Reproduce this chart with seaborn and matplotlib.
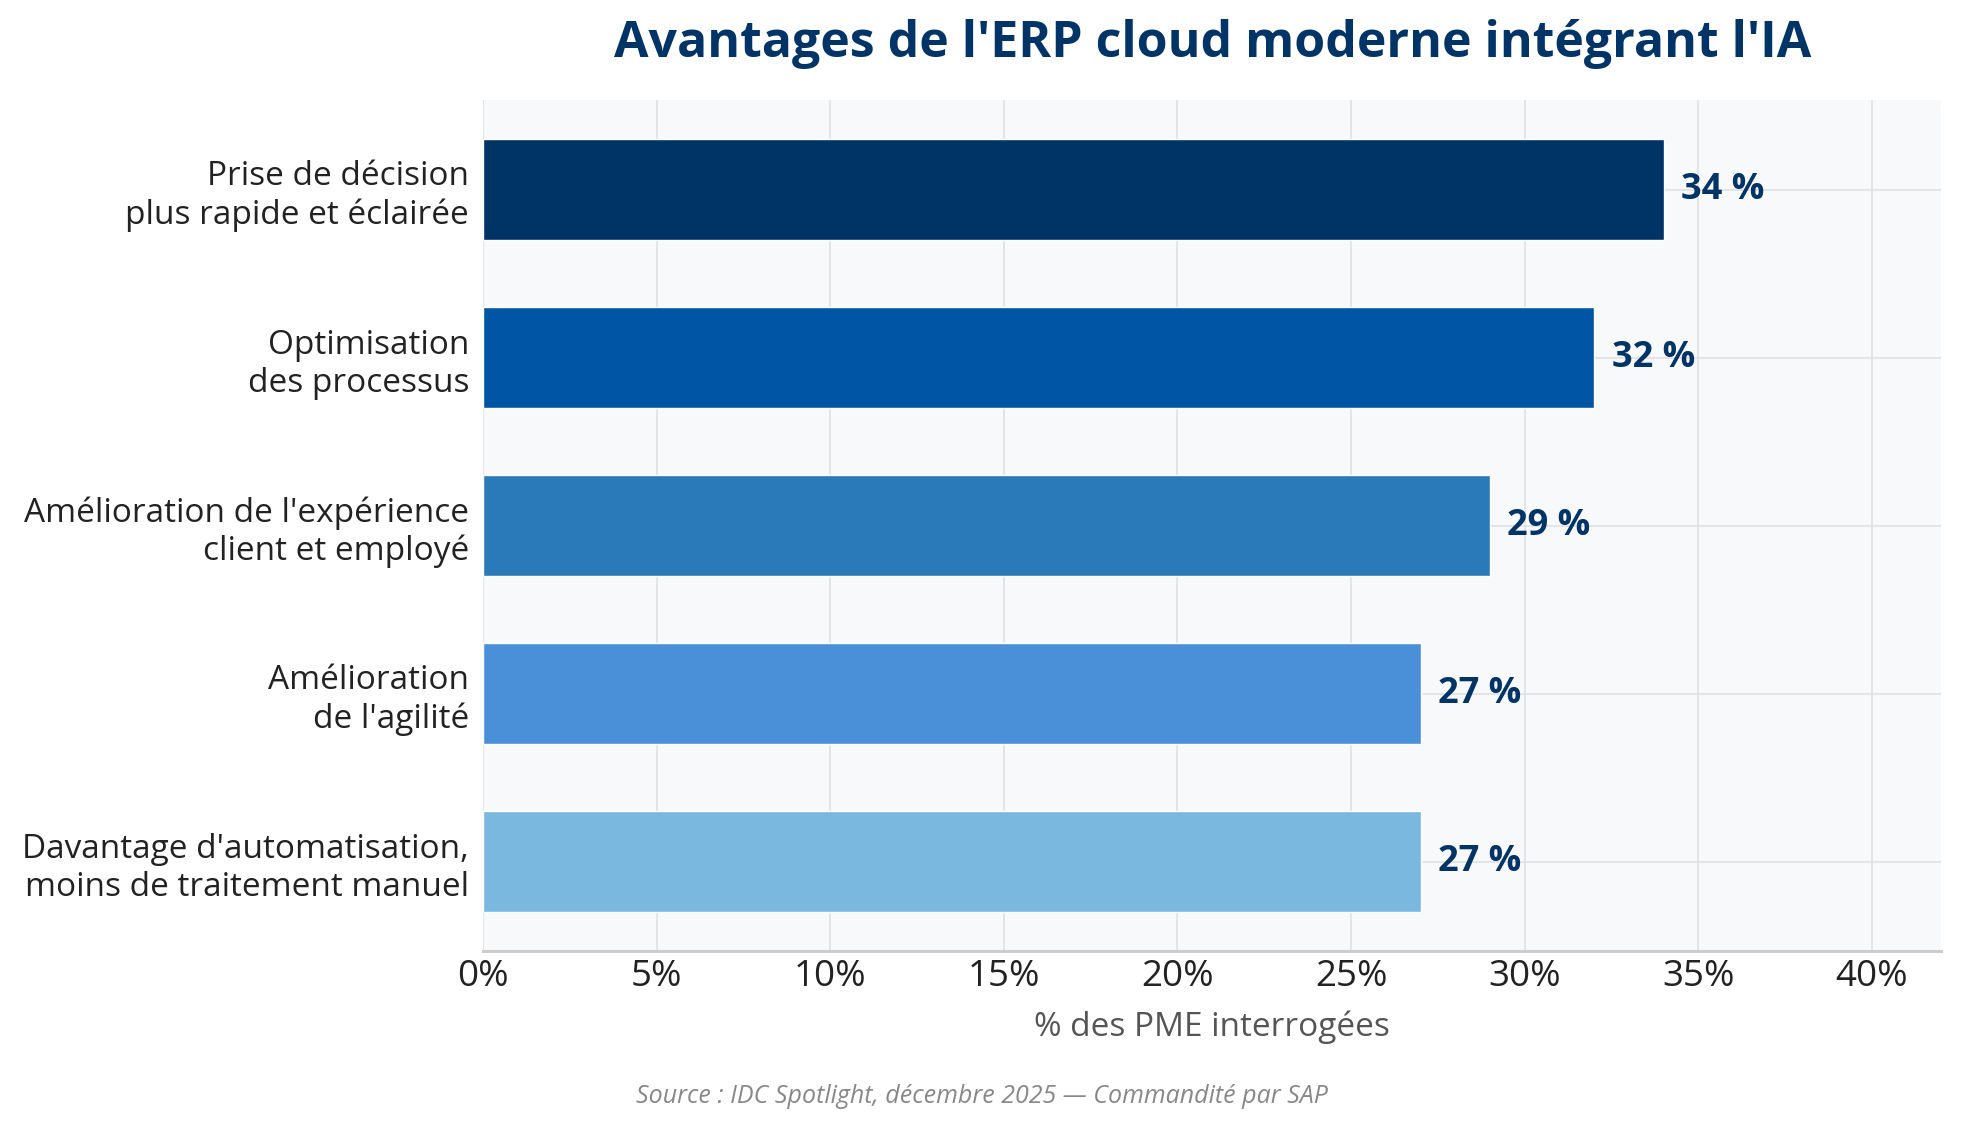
import numpy as np
import pandas as pd
import matplotlib
matplotlib.use("Agg")
import matplotlib.pyplot as plt
import seaborn as sns
from matplotlib.ticker import PercentFormatter

categories = [
    "Prise de décision\nplus rapide et éclairée",
    "Optimisation\ndes processus",
    "Amélioration de l'expérience\nclient et employé",
    "Amélioration\nde l'agilité",
    "Davantage d'automatisation,\nmoins de traitement manuel",
]
values = [34, 32, 29, 27, 27]
colors = ["#003366", "#0055A4", "#2A7AB9", "#4A90D9", "#7AB8E0"]

data = pd.DataFrame({"avantage": categories, "pct": values})

sns.set_theme(style="whitegrid")
plt.rcParams["font.family"] = ["Open Sans", "Noto Sans", "DejaVu Sans"]

fig = plt.figure(figsize=(19.63, 11.29), dpi=100)
ax = fig.add_axes([0.246, 0.158, 0.743, 0.753])
ax.set_facecolor("#F8F9FA")

sns.barplot(data=data, y="avantage", x="pct", hue="avantage", palette=colors,
            legend=False, width=0.6, saturation=1, ax=ax, zorder=3)

for i, v in enumerate(values):
    ax.text(v + 0.5, i, f"{v} %", va="center", ha="left", fontsize=26,
            fontweight="bold", color="#003366", zorder=4)

ax.set_xlim(0, 42)
ax.set_ylim(4.53, -0.53)
ax.set_xticks(np.arange(0, 41, 5))
ax.xaxis.set_major_formatter(PercentFormatter(decimals=0))
ax.grid(True, axis="both", color="#E0E0E0", linewidth=1.2, zorder=0)
ax.set_axisbelow(True)

for s in ["top", "right", "left"]:
    ax.spines[s].set_visible(False)
ax.spines["bottom"].set_color("#CCCCCC")
ax.spines["bottom"].set_linewidth(2.2)

ax.tick_params(axis="x", labelsize=26.5, colors="#222222", length=0, pad=6)
ax.tick_params(axis="y", labelsize=24, colors="#222222", length=0, pad=10)
ax.set_ylabel("")
ax.set_xlabel("% des PME interrogées", fontsize=24, color="#555555", labelpad=11)

ax.set_title("Avantages de l'ERP cloud moderne intégrant l'IA", fontsize=36,
             fontweight="bold", color="#003366", pad=31)

fig.text(0.5, 0.029, "Source : IDC Spotlight, décembre 2025 — Commandité par SAP",
         ha="center", va="center", fontsize=18, style="italic", color="#888888")

fig.savefig("out.png", dpi=100)
